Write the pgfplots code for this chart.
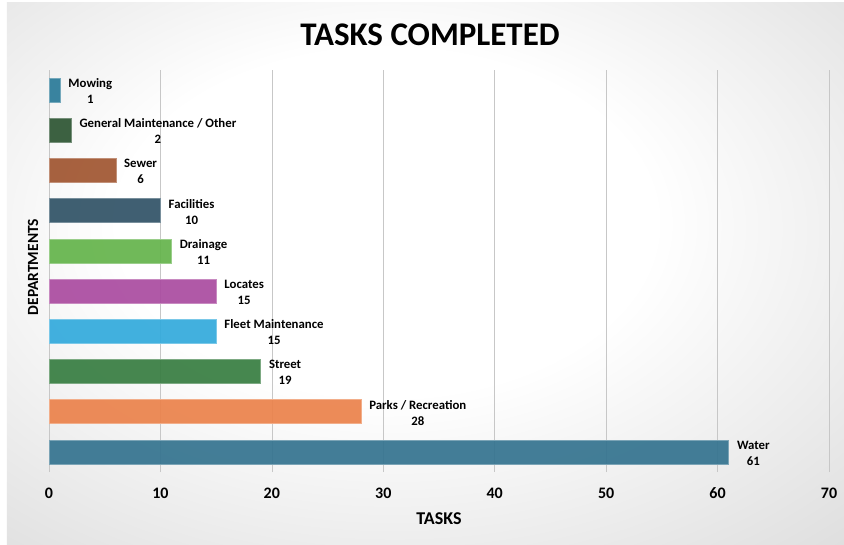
\documentclass[border=0pt]{standalone}
\usepackage{pgfplots}
\pgfplotsset{compat=1.18}
\usepackage{fontspec}
\setmainfont{Carlito}
\definecolor{cMow}{RGB}{42,122,152}
\definecolor{cGen}{RGB}{45,85,50}
\definecolor{cSew}{RGB}{160,85,48}
\definecolor{cFac}{RGB}{48,82,102}
\definecolor{cDra}{RGB}{100,180,75}
\definecolor{cLoc}{RGB}{170,75,160}
\definecolor{cFle}{RGB}{50,170,220}
\definecolor{cStr}{RGB}{55,125,65}
\definecolor{cPar}{RGB}{235,130,75}
\definecolor{cWat}{RGB}{52,115,143}
\pgfdeclareradialshading{bgshade}{\pgfpoint{-3bp}{6bp}}{color(0bp)=(white); color(16bp)=(white); color(50bp)=(black!19); color(75bp)=(black!26)}
\newcommand{\mybar}[4]{\addplot[fill=#1, draw=#1!65!white, line width=0.6pt, fill opacity=0.92, nodes near coords={#4\\\pgfmathprintnumber{\pgfplotspointmeta}}] coordinates {(#2,#3)};}
\begin{document}
\begin{tikzpicture}
\begin{scope}[x=1pt,y=1pt,shift={(-49pt,472pt)}]
\useasboundingbox (0,0) rectangle (844,-544);
\fill[white] (0,0) rectangle (844,-544);
\shade[shading=bgshade] (7,-3) rectangle (844,-544);
\node[font=\fontsize{33}{36}\selectfont\bfseries] at (430,-35) {TASKS COMPLETED};
\node[font=\fontsize{18}{20}\selectfont\bfseries] at (439,-519) {TASKS};
\node[font=\fontsize{15.5}{18}\selectfont\bfseries, rotate=90] at (33,-267) {DEPARTMENTS};
\end{scope}
\begin{axis}[
  at={(0pt,0pt)}, anchor=south west,
  scale only axis, width=780pt, height=402pt,
  xmin=0, xmax=70, ymin=-0.5, ymax=9.5,
  xbar, bar width=24pt, bar shift=0pt,
  xtick={0,10,...,70}, ytick=\empty,
  axis line style={draw=none}, tick style={draw=none},
  xmajorgrids, grid style={black!22, line width=0.6pt},
  xticklabel style={font=\fontsize{16}{18}\selectfont\bfseries, anchor=center, yshift=-21pt},
  /pgf/number format/assume math mode=true,
  point meta=x,
  nodes near coords style={anchor=west, inner sep=0pt, xshift=8pt, yshift=-1pt, align=center, text opacity=1, font=\fontsize{12.8}{16}\selectfont\bfseries},
  clip=false,
]
\mybar{cWat}{61}{0}{Water}
\mybar{cPar}{28}{1}{Parks / Recreation}
\mybar{cStr}{19}{2}{Street}
\mybar{cFle}{15}{3}{Fleet Maintenance}
\mybar{cLoc}{15}{4}{Locates}
\mybar{cDra}{11}{5}{Drainage}
\mybar{cFac}{10}{6}{Facilities}
\mybar{cSew}{6}{7}{Sewer}
\mybar{cGen}{2}{8}{General Maintenance / Other}
\mybar{cMow}{1}{9}{Mowing}
\end{axis}
\end{tikzpicture}
\end{document}
